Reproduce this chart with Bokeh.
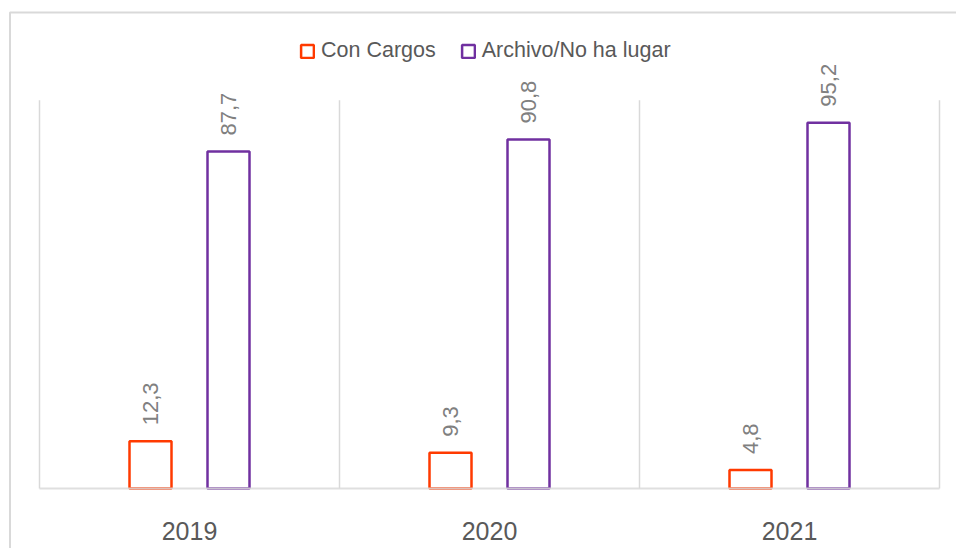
from bokeh.plotting import figure
from bokeh.models import (ColumnDataSource, Range1d, Legend, LegendItem, BoxAnnotation, Grid)
from bokeh.transform import dodge
from bokeh.core.properties import value
from bokeh.embed import file_html
from bokeh.resources import INLINE
import math

years = ["2019", "2020", "2021"]
con_cargos = [12.3, 9.3, 4.8]
archivo = [87.7, 90.8, 95.2]
series_names = ["Con Cargos", "Archivo/No ha lugar"]

fmt = lambda v: f"{v:.1f}".replace(".", ",")
xc = [i + 0.5 for i in range(len(years))]          # category centres
src = ColumnDataSource(dict(
    x=xc, year=years, con=con_cargos, arc=archivo,
    con_lbl=[fmt(v) for v in con_cargos], arc_lbl=[fmt(v) for v in archivo],
))

FONT = "'Liberation Sans Narrow', 'Arial Narrow', 'Liberation Sans', Arial, sans-serif"
ORANGE = "#FF3A00"
PURPLE = "#7030A0"
GRID = "#d9d9d9"

W, H = 956, 548
PX_PER_CAT = 300.0
PX_PER_UNIT = 3.843
LEFT_PX, BASE_PX = 39, 488
TOP_VAL = 101

p = figure(width=W, height=H, output_backend="svg", toolbar_location=None,
           x_axis_location=None, y_axis_location=None,
           x_range=Range1d(-LEFT_PX / PX_PER_CAT, (W - LEFT_PX) / PX_PER_CAT),
           y_range=Range1d(-(H - BASE_PX) / PX_PER_UNIT, BASE_PX / PX_PER_UNIT),
           min_border=0)
p.outline_line_color = None
p.background_fill_color = "white"
for r in list(p.center):
    if isinstance(r, Grid):
        r.visible = False

n = len(years)
# category separators
p.segment(x0=list(range(n + 1)), y0=[0] * (n + 1), x1=list(range(n + 1)),
          y1=[TOP_VAL] * (n + 1), line_color=GRID, line_width=1.5)

r1 = p.vbar(x=dodge("x", -0.13), top="con", width=0.14, bottom=0,
            source=src, fill_color="white", line_color=ORANGE, line_width=2.5)
r2 = p.vbar(x=dodge("x", 0.13), top="arc", width=0.14, bottom=0,
            source=src, fill_color="white", line_color=PURPLE, line_width=2.5)

# baseline (drawn over the bar bottoms, as in the reference)
p.segment(x0=[0], y0=[0], x1=[n], y1=[0], line_color=GRID, line_width=2, line_alpha=0.85)

for col, lbl, off in (("con", "con_lbl", -0.13), ("arc", "arc_lbl", 0.13)):
    p.text(x=dodge("x", off), y=col, text=lbl, source=src,
           angle=math.pi / 2, text_align="left", text_baseline="middle",
           y_offset=-16, text_font=value(FONT), text_font_size="22px",
           text_color="#808080")

# category labels
p.text(x="x", y=0, text="year", source=src, text_align="center",
       text_baseline="alphabetic", y_offset=42, text_font=value("Liberation Sans"),
       text_font_size="25px", text_color="#595959")

legend = Legend(items=[LegendItem(label=series_names[0], renderers=[r1]),
                       LegendItem(label=series_names[1], renderers=[r2])],
                orientation="horizontal", location=(299, 485),
                glyph_width=16, glyph_height=16, label_standoff=6, spacing=24,
                padding=4, border_line_color=None, background_fill_alpha=0,
                label_text_font=FONT, label_text_font_size="21.5px",
                label_text_color="#595959", label_height=16)
p.add_layout(legend, "center")

p.add_layout(BoxAnnotation(left=9.5, right=3000, top=12, bottom=3000,
                           left_units="canvas", right_units="canvas",
                           top_units="canvas", bottom_units="canvas",
                           fill_alpha=0, line_color=GRID, line_alpha=1, line_width=2))

open("out.html", "w").write(file_html(p, INLINE))
